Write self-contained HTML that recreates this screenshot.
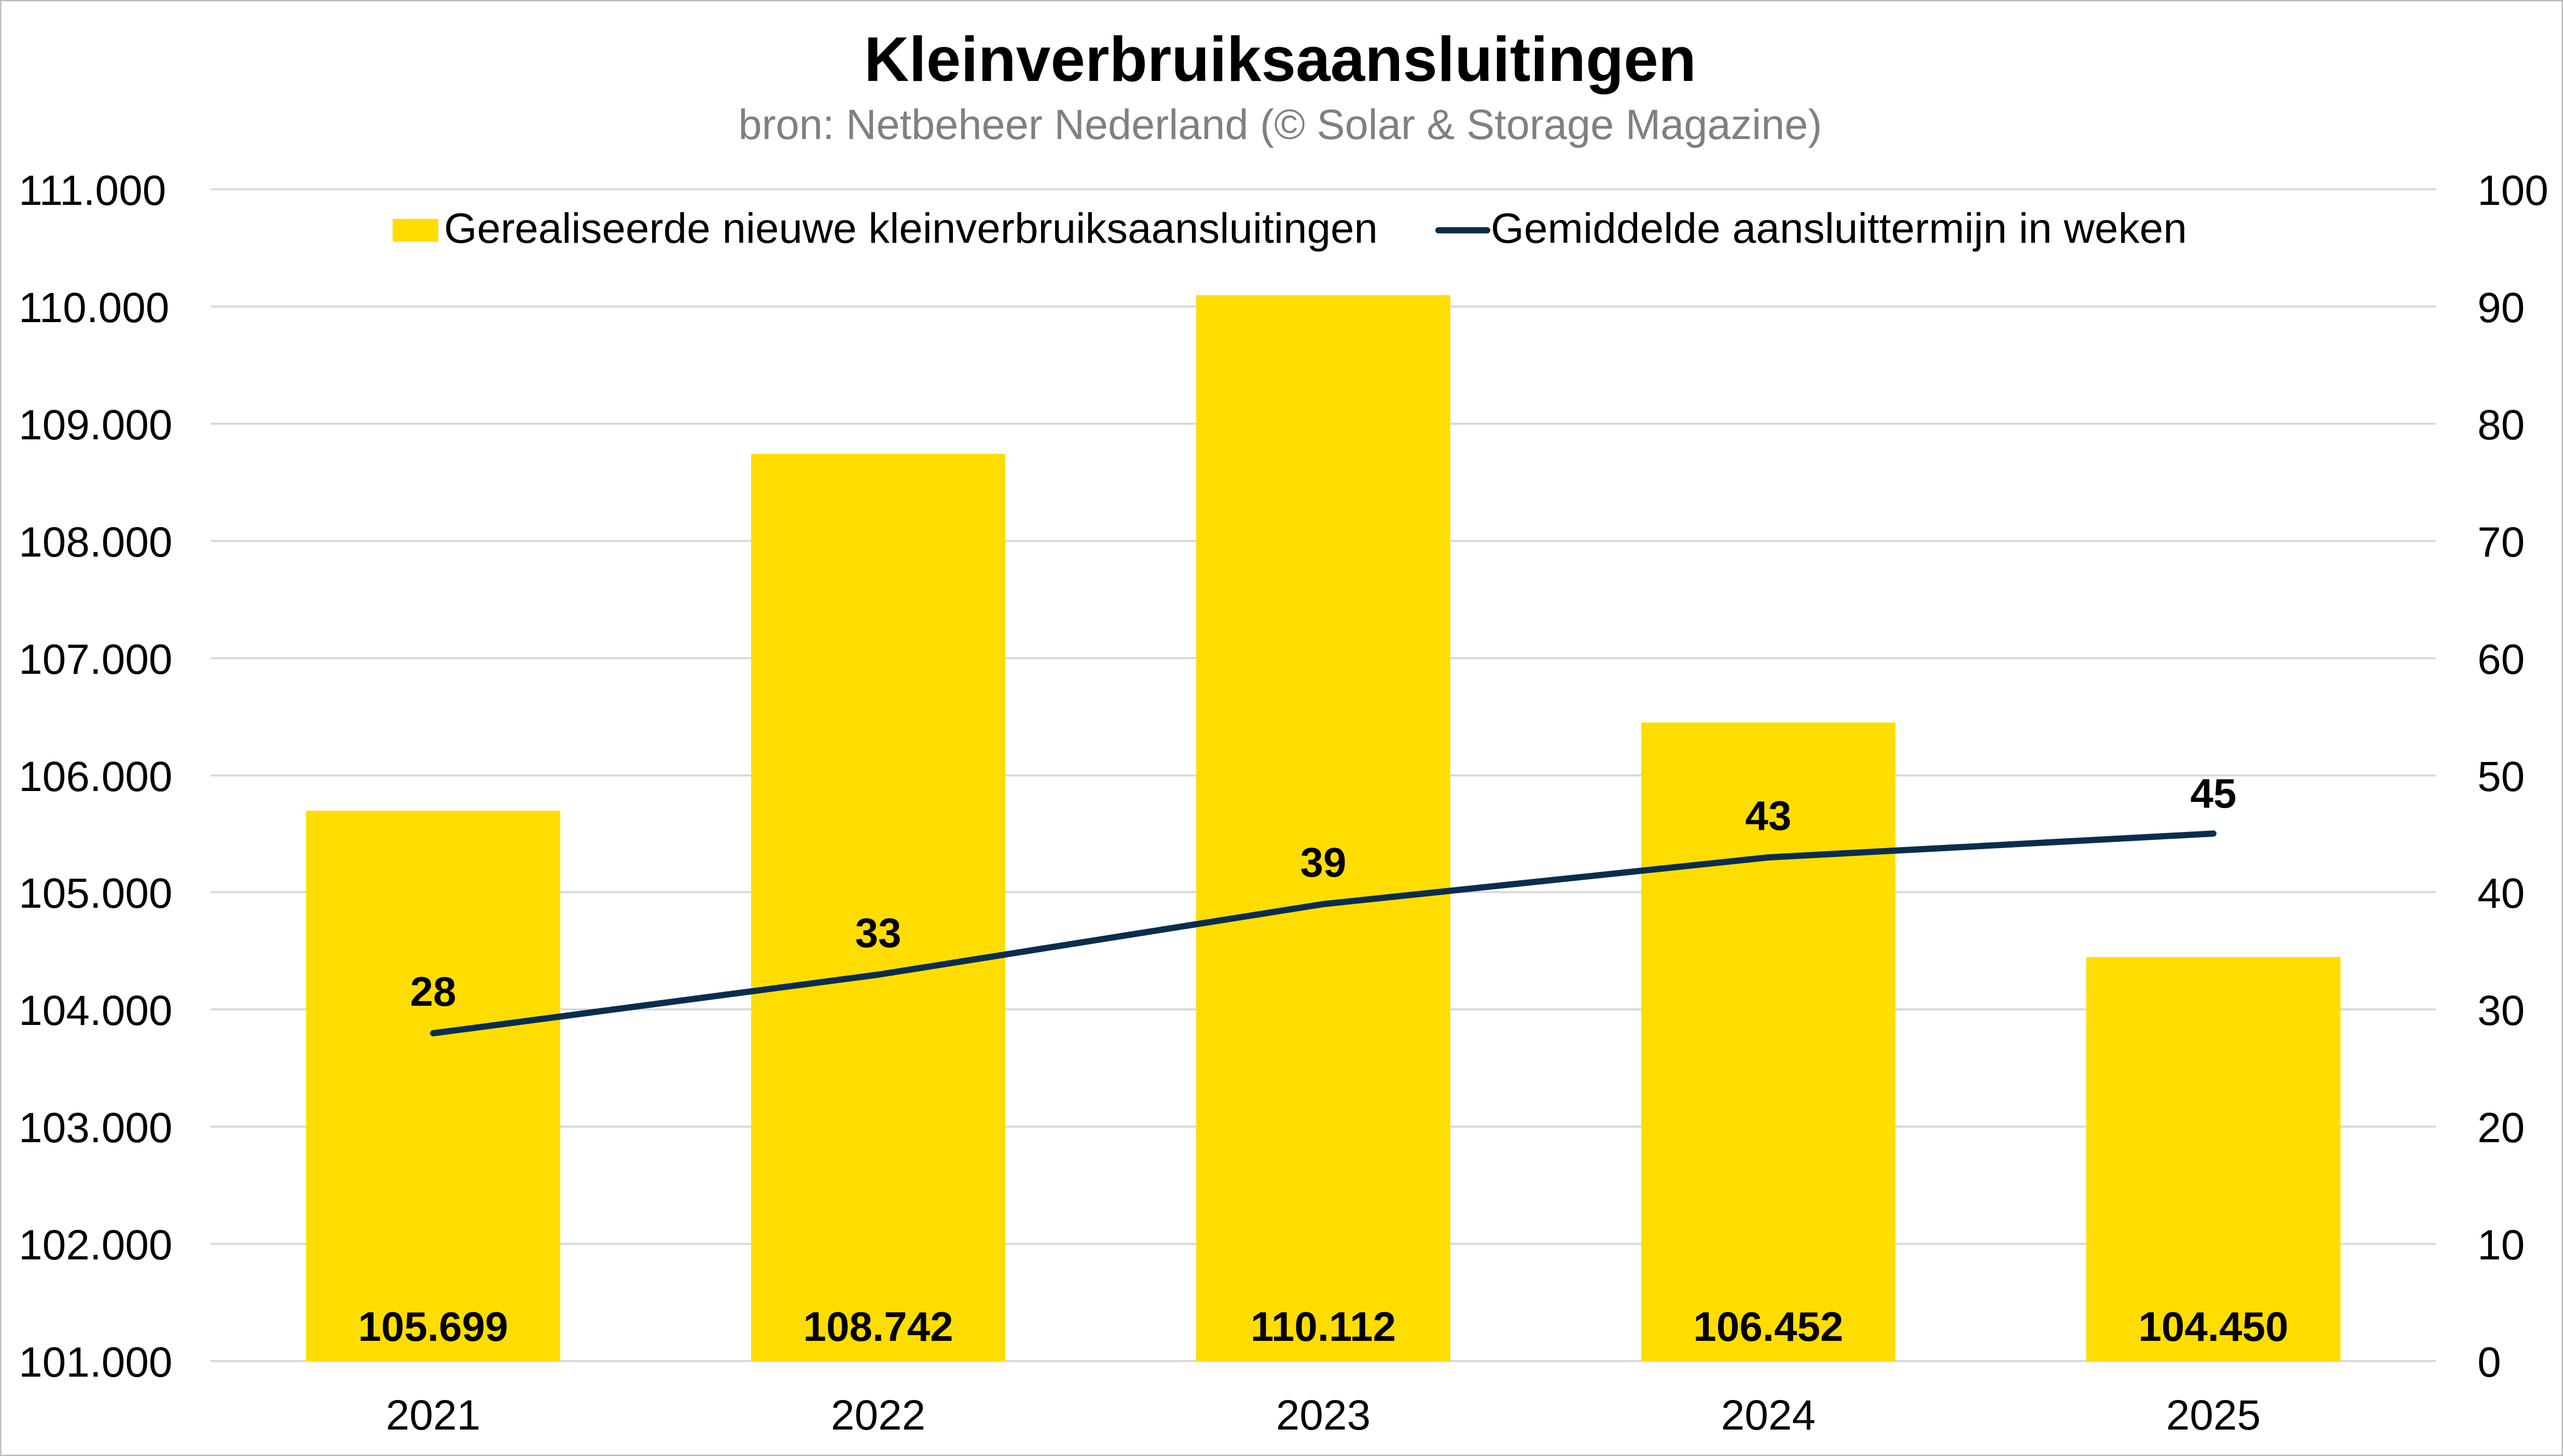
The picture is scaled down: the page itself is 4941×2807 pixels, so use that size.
<!DOCTYPE html>
<html><head><meta charset="utf-8"><style>html,body{margin:0;padding:0;background:#fff}svg{display:block}</style></head>
<body>
<svg width="4941" height="2807" viewBox="0 0 4941 2807" xmlns="http://www.w3.org/2000/svg" font-family="Liberation Sans, sans-serif">
<rect x="1" y="1" width="4939" height="2805" fill="#fff" stroke="#bbb" stroke-width="3"/>
<text x="2468" y="156" font-size="122" font-weight="bold" text-anchor="middle" textLength="1604" lengthAdjust="spacingAndGlyphs">Kleinverbruiksaansluitingen</text>
<text x="2468" y="268" font-size="82" fill="#808080" text-anchor="middle" textLength="2089" lengthAdjust="spacingAndGlyphs">bron: Netbeheer Nederland (© Solar &amp; Storage Magazine)</text>
<g stroke="#d9d9d9" stroke-width="4">
<line x1="406" x2="4696" y1="365" y2="365"/><line x1="406" x2="4696" y1="591" y2="591"/><line x1="406" x2="4696" y1="817" y2="817"/><line x1="406" x2="4696" y1="1043" y2="1043"/><line x1="406" x2="4696" y1="1269" y2="1269"/><line x1="406" x2="4696" y1="1495" y2="1495"/><line x1="406" x2="4696" y1="1720" y2="1720"/><line x1="406" x2="4696" y1="1946" y2="1946"/><line x1="406" x2="4696" y1="2172" y2="2172"/><line x1="406" x2="4696" y1="2398" y2="2398"/><line x1="406" x2="4696" y1="2624" y2="2624"/>
</g>
<g font-size="82" text-anchor="start">
<text x="36" y="395">111.000</text><text x="36" y="621">110.000</text><text x="36" y="847">109.000</text><text x="36" y="1073">108.000</text><text x="36" y="1299">107.000</text><text x="36" y="1525">106.000</text><text x="36" y="1750">105.000</text><text x="36" y="1976">104.000</text><text x="36" y="2202">103.000</text><text x="36" y="2428">102.000</text><text x="36" y="2654">101.000</text>
<text x="4776" y="395">100</text><text x="4776" y="621">90</text><text x="4776" y="847">80</text><text x="4776" y="1073">70</text><text x="4776" y="1299">60</text><text x="4776" y="1525">50</text><text x="4776" y="1750">40</text><text x="4776" y="1976">30</text><text x="4776" y="2202">20</text><text x="4776" y="2428">10</text><text x="4776" y="2654">0</text>
</g>
<g fill="#FFDD00">
<rect x="590" y="1563" width="490" height="1061"/>
<rect x="1448" y="875" width="490" height="1749"/>
<rect x="2306" y="569" width="490" height="2055"/>
<rect x="3164" y="1393" width="490" height="1231"/>
<rect x="4022" y="1845" width="490" height="779"/>
</g>
<polyline points="835,1992 1693,1879 2551,1743 3409,1653 4267,1607" fill="none" stroke="#0a2d4f" stroke-width="12" stroke-linecap="round" stroke-linejoin="round"/>
<g font-size="80" font-weight="bold" text-anchor="middle">
<text x="835" y="2585">105.699</text><text x="1693" y="2585">108.742</text><text x="2551" y="2585">110.112</text><text x="3409" y="2585">106.452</text><text x="4267" y="2585">104.450</text>
<text x="835" y="1939">28</text><text x="1693" y="1826">33</text><text x="2551" y="1690">39</text><text x="3409" y="1600">43</text><text x="4267" y="1557">45</text>
</g>
<g font-size="82" text-anchor="middle">
<text x="835" y="2756">2021</text><text x="1693" y="2756">2022</text><text x="2551" y="2756">2023</text><text x="3409" y="2756">2024</text><text x="4267" y="2756">2025</text>
</g>
<rect x="757" y="422" width="88" height="44" fill="#FFDD00"/>
<text x="856" y="468" font-size="82" textLength="1800" lengthAdjust="spacingAndGlyphs">Gerealiseerde nieuwe kleinverbruiksaansluitingen</text>
<line x1="2773" x2="2867" y1="444" y2="444" stroke="#0a2d4f" stroke-width="12" stroke-linecap="round"/>
<text x="2874" y="468" font-size="82" textLength="1342" lengthAdjust="spacingAndGlyphs">Gemiddelde aansluittermijn in weken</text>
</svg>
</body></html>
